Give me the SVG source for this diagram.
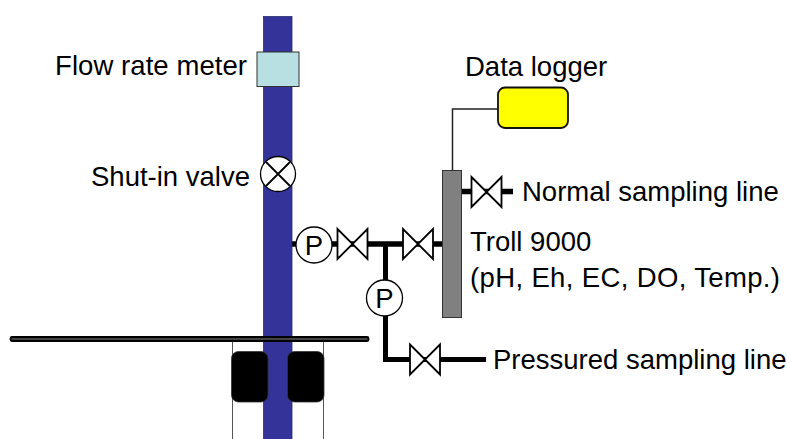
<svg xmlns="http://www.w3.org/2000/svg" width="787" height="439" viewBox="0 0 787 439">
<style>
text{font-family:"Liberation Sans",Arial,sans-serif;font-size:27.500px;fill:#000}
.pipe{fill:none;stroke:#000;stroke-width:5.500;stroke-linecap:butt}
.v{fill:#fff;stroke:#000;stroke-width:1.8}
.c{fill:#fff;stroke:#000;stroke-width:1.3}
.pk{fill:#000;stroke:#333;stroke-width:.8}
</style>
<defs>
<path id="valve" class="v" d="M-15,-15 L15,15 L15,-15 L-15,15 Z"/>
</defs>
<g id="connectors">
<path class="pipe" d="M292,244H442"/>
<path class="pipe" style="stroke-width:5" d="M385.500,244V359.500H486"/>
<path class="pipe" d="M462,191.500H513"/>
<path d="M232.500,338V439M323.500,338V439" fill="none" stroke="#555" stroke-width="1"/>
<path d="M452.500,172V109H498" fill="none" stroke="#222" stroke-width="1.500"/>
</g>
<g id="well-pipe"><rect x="263.500" y="16.500" width="28.500" height="423" fill="#333399" stroke="#2a2a70" stroke-width=".8"/></g>
<g id="ground"><rect x="10.500" y="337" width="358" height="4" rx="1.500" fill="#444" stroke="#000" stroke-width="1.800"/></g>
<g id="packer-left"><rect class="pk" x="231.500" y="351.500" width="36.500" height="50.500" rx="7"/></g>
<g id="packer-right"><rect class="pk" x="287.500" y="351.500" width="36.500" height="50.500" rx="7"/></g>
<g id="flow-meter"><rect x="257" y="52" width="42" height="34.500" fill="#b8e0e2" stroke="#333" stroke-width="1"/><text x="55" y="75" textLength="192">Flow rate meter</text></g>
<g id="shut-in-valve"><circle class="c" cx="278" cy="174" r="17.500"/><path d="M266,162 L290,186 M290,162 L266,186" stroke="#000" stroke-width="1.800" fill="none"/><text x="91" y="186">Shut-in valve</text></g>
<g id="gauge-1"><circle class="c" cx="314" cy="245" r="18"/><text x="314" y="255" text-anchor="middle">P</text></g>
<g id="valve-1"><use href="#valve" x="352.500" y="244"/></g>
<g id="valve-2"><use href="#valve" x="418" y="244"/></g>
<g id="valve-3"><use href="#valve" x="486.500" y="192"/></g>
<g id="valve-4"><use href="#valve" x="425" y="359.500"/></g>
<g id="gauge-2"><circle class="c" cx="384.500" cy="298" r="18"/><text x="384.500" y="308" text-anchor="middle">P</text></g>
<g id="troll"><rect x="442.500" y="170.500" width="19" height="147" fill="#808080" stroke="#333" stroke-width="1"/><text x="470" y="251">Troll 9000</text><text x="470" y="287" textLength="310">(pH, Eh, EC, DO, Temp.)</text></g>
<g id="data-logger"><rect x="498" y="87.500" width="70" height="40.500" rx="7" fill="#ffff00" stroke="#111" stroke-width="1.800"/><text x="465" y="76">Data logger</text></g>
<g id="normal-line"><text x="522" y="201">Normal sampling line</text></g>
<g id="pressured-line"><text x="493" y="369">Pressured sampling line</text></g>
</svg>
